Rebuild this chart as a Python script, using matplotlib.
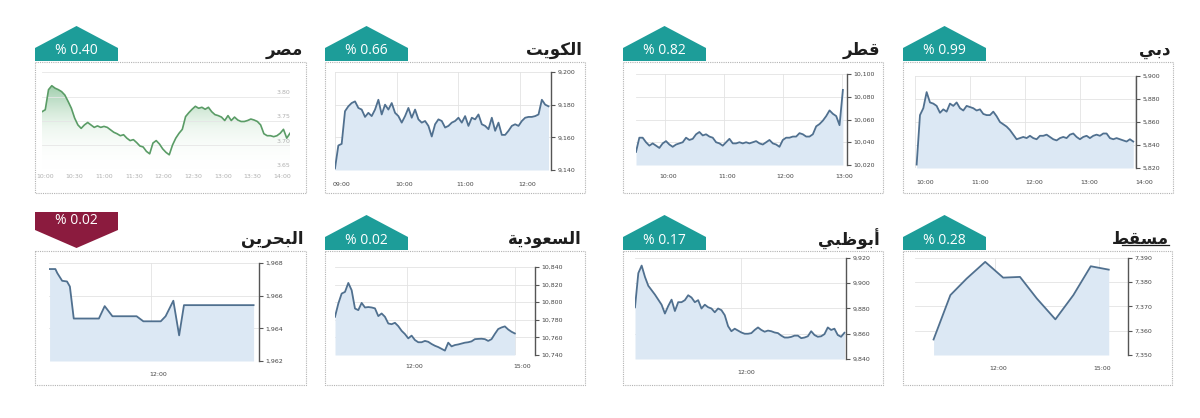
## Gulf / Arab market indices - small multiples
import numpy as np
import matplotlib.pyplot as plt
from matplotlib.patches import Polygon, Rectangle
from matplotlib.colors import LinearSegmentedColormap

## titles are written in Arabic presentation forms (visual order) because
## matplotlib does not shape Arabic text by itself
names = {
    'egypt': '\uFEAE\uFEBC\uFEE3',                            # مصر
    'kuwait': '\uFE96\uFEF3\uFEEE\uFEDC\uFEDF\uFE8D',         # الكويت
    'qatar': '\uFEAE\uFEC4\uFED7',                            # قطر
    'dubai': '\uFEF2\uFE91\uFEA9',                            # دبي
    'bahrain': '\uFEE6\uFEF3\uFEAE\uFEA4\uFE92\uFEDF\uFE8D',  # البحرين
    'saudi': '\uFE94\uFEF3\uFEA9\uFEEE\uFECC\uFEB4\uFEDF\uFE8D',  # السعودية
    'abudhabi': '\uFEF2\uFE92\uFEC7\uFEEE\uFE91\uFE83',       # أبوظبي
    'muscat': '\uFEC2\uFED8\uFEB4\uFEE3',                     # مسقط
}
changes = {'egypt': '0.40', 'kuwait': '0.66', 'qatar': '0.82', 'dubai': '0.99',
           'bahrain': '0.02', 'saudi': '0.02', 'abudhabi': '0.17', 'muscat': '0.28'}

##Data
egypt_start, egypt_end = 9.95, 14.13
egypt_values = [3.769, 3.773, 3.814, 3.822, 3.817, 3.814, 3.810, 3.803, 3.790, 3.776,
                3.756, 3.742, 3.735, 3.742, 3.747, 3.742, 3.737, 3.740, 3.737, 3.739,
                3.737, 3.732, 3.727, 3.724, 3.720, 3.722, 3.715, 3.710, 3.712, 3.706,
                3.699, 3.697, 3.688, 3.683, 3.705, 3.710, 3.703, 3.693, 3.686, 3.681,
                3.701, 3.715, 3.725, 3.733, 3.759, 3.767, 3.774, 3.780, 3.776, 3.778,
                3.774, 3.778, 3.769, 3.763, 3.761, 3.758, 3.751, 3.761, 3.751, 3.758,
                3.752, 3.749, 3.749, 3.751, 3.754, 3.752, 3.749, 3.742, 3.724, 3.720,
                3.720, 3.718, 3.720, 3.725, 3.733, 3.715, 3.725]
egypt_yticks = [3.65, 3.70, 3.75, 3.80, 3.85]
egypt_ylabels = ['3.65', '3.70', '3.75', '3.80']
egypt_xlabels = ['10:00', '10:30', '11:00', '11:30', '12:00', '12:30', '13:00', '13:30', '14:00']

kuwait_start, kuwait_end = 9.0, 12.46
kuwait_values = [9141, 9155, 9156, 9176, 9179, 9181, 9182, 9178, 9177, 9172.5,
                 9175, 9173, 9177, 9183, 9174, 9180, 9177, 9181, 9175, 9173,
                 9169, 9173, 9178, 9172, 9177, 9171, 9169, 9170, 9167, 9160.5,
                 9168, 9171, 9170, 9166, 9167, 9169, 9170, 9172, 9169, 9173,
                 9167, 9172, 9171, 9174, 9168, 9167, 9165, 9172, 9164, 9169,
                 9161.5, 9161.5, 9164, 9167, 9168, 9167, 9170, 9172, 9172.5, 9172.5,
                 9173, 9174, 9183, 9180, 9179]
kuwait_yticks = [9140, 9160, 9180, 9200]
kuwait_xticks = ['09:00', '10:00', '11:00', '12:00']

qatar_start, qatar_end = 9.5, 13.02
qatar_values = [10031.5, 10044, 10044, 10040, 10037, 10039, 10037, 10035, 10039, 10041,
                10038, 10036, 10038, 10039, 10040, 10044, 10042, 10043, 10047, 10049,
                10046, 10047, 10045, 10044, 10040, 10039, 10037, 10040, 10043, 10039,
                10039, 10040, 10039, 10040, 10039, 10040, 10041, 10039, 10038, 10040,
                10042, 10039, 10038, 10036, 10042, 10044, 10044, 10045, 10045, 10048,
                10047, 10045, 10045, 10047, 10054, 10056, 10059, 10063, 10068, 10065,
                10063, 10055, 10086]
qatar_yticks = [10020, 10040, 10060, 10080, 10100]
qatar_xticks = ['10:00', '11:00', '12:00', '13:00']

dubai_start, dubai_end = 10.03, 13.97
dubai_values = [5823, 5866, 5872, 5886, 5877, 5876, 5874, 5868, 5871, 5869,
                5876, 5874, 5877, 5872, 5870, 5874, 5873, 5872, 5870, 5871,
                5867, 5866, 5866, 5869, 5865, 5860, 5858, 5856, 5853, 5849,
                5845, 5846, 5847, 5846, 5848, 5846, 5845, 5848, 5848, 5849,
                5847, 5845, 5844, 5846, 5847, 5846, 5849, 5850, 5847, 5845,
                5847, 5848, 5846, 5848, 5849, 5848, 5850, 5850, 5846, 5845,
                5846, 5845, 5844, 5843, 5845, 5843]
dubai_yticks = [5820, 5840, 5860, 5880, 5900]
dubai_xticks = ['10:00', '11:00', '12:00', '13:00', '14:00']

bahrain_times = ['10:15', '10:21', '10:23', '10:28', '10:33', '10:36', '10:40', '11:06',
                 '11:12', '11:20', '11:45', '11:52', '12:10', '12:15', '12:23', '12:29',
                 '12:34', '13:46']
bahrain_values = [1967.63, 1967.63, 1967.38, 1966.91, 1966.87, 1966.56, 1964.60, 1964.60,
                  1965.36, 1964.74, 1964.74, 1964.43, 1964.43, 1964.74, 1965.69, 1963.57,
                  1965.42, 1965.42]
bahrain_yticks = [1962, 1964, 1966, 1968]
bahrain_xticks = ['12:00']

saudi_start, saudi_end = 10.0, 15.0
saudi_values = [10783.4, 10798.5, 10809.8, 10811.7, 10821.9, 10813.6, 10792.8, 10791, 10799.2, 10794,
                10794.5, 10794, 10793, 10784.2, 10787.2, 10783.4, 10775.8, 10775, 10776.6, 10772.8,
                10767.5, 10763.8, 10758.9, 10762, 10757, 10754.5, 10754.5, 10756, 10755, 10752.5,
                10750.5, 10749, 10747, 10745, 10754, 10749.8, 10751.3, 10752, 10753, 10754,
                10754.5, 10755.5, 10758, 10758.3, 10758.5, 10758, 10756, 10758, 10764, 10769.5,
                10771.3, 10772.5, 10769, 10766.4, 10764.5]
saudi_yticks = [10740, 10760, 10780, 10800, 10820, 10840]
saudi_xticks = ['12:00', '15:00']

abudhabi_start, abudhabi_end = 10.0, 13.97
abudhabi_values = [9881, 9908, 9914, 9905, 9898, 9894.5, 9891, 9887, 9883, 9876,
                   9882, 9887, 9878, 9885, 9885, 9886.6, 9890.5, 9888.7, 9885, 9886.6,
                   9880, 9883, 9881, 9880, 9877, 9880, 9878.7, 9874.7, 9866, 9862,
                   9864, 9862.5, 9861, 9860, 9860, 9860.5, 9863, 9865, 9863, 9861.6,
                   9862.5, 9862, 9861, 9860.5, 9858.5, 9857, 9857, 9857.5, 9858.5, 9858.5,
                   9856.5, 9857, 9858, 9862, 9859, 9857.6, 9858, 9859.7, 9865, 9863,
                   9864, 9859, 9857.6, 9860.8]
abudhabi_yticks = [9840, 9860, 9880, 9900, 9920]
abudhabi_xticks = ['12:00']

muscat_times = ['10:14', '10:43', '11:11', '11:43', '12:14', '12:43', '13:12', '13:44',
                '14:15', '14:45', '15:16']
muscat_values = [7356.4, 7374.7, 7381.5, 7388.4, 7381.9, 7382.2, 7373.3, 7364.7,
                 7374.7, 7386.6, 7385.2]
muscat_yticks = [7350, 7360, 7370, 7380, 7390]
muscat_xticks = ['12:00', '15:00']

W, H = 1200, 418
TEAL = '#1d9d99'
MAROON = '#8b1b3e'
LINE = '#50708f'
FILL = '#dce8f4'
GRID = '#e3e3e3'


def hours(s):
	h, m = s.split(':')
	return int(h) + int(m) / 60.0


fig = plt.figure(figsize=(12, 4.18), dpi=100, facecolor='white')
bg = fig.add_axes([0, 0, 1, 1])
bg.set_xlim(0, W)
bg.set_ylim(H, 0)
bg.axis('off')


def px_axes(x0, y0, x1, y1):
	return fig.add_axes([x0 / W, 1 - y1 / H, (x1 - x0) / W, (y1 - y0) / H])


def frame(x0, y0, x1, y1, key, up=True, underline=False):
	bg.add_patch(Rectangle((x0, y0), x1 - x0, y1 - y0, fill=False, ls=(0, (1, 1)),
	                       lw=0.8, ec='#b3b3b3'))
	bx1 = x0 + 83
	mid = (x0 + bx1) / 2
	if up:
		pts = [(x0, y0 - 1), (x0, y0 - 14), (mid, y0 - 36), (bx1, y0 - 14), (bx1, y0 - 1)]
		ty = y0 - 11
	else:
		pts = [(x0, y0 - 39), (bx1, y0 - 39), (bx1, y0 - 21), (mid, y0 - 3), (x0, y0 - 21)]
		ty = y0 - 30
	bg.add_patch(Polygon(pts, closed=True, fc=TEAL if up else MAROON, ec='none'))
	bg.text(mid, ty, '% ' + changes[key], color='white', ha='center', va='center',
	        fontsize=10, family='Open Sans')
	bg.text(x1 - 3, y0 - 12, names[key], ha='right', va='center', fontsize=12,
	        fontweight='bold', color='#1e1e1e', family='DejaVu Sans')
	if underline:
		bg.plot([x1 - 50, x1 - 3], [y0 - 6, y0 - 6], color='#1e1e1e', lw=0.9)


def chart(rect, t, v, xlim, yticks, xt, xtl, label_y, dx=5):
	ax = px_axes(*rect)
	ax.set_facecolor('none')
	ax.fill_between(t, v, yticks[0], color=FILL, lw=0, zorder=1)
	ax.plot(t, v, color=LINE, lw=1.3, zorder=3)
	ax.set_xlim(*xlim)
	ax.set_ylim(yticks[0], yticks[-1])
	ax.yaxis.tick_right()
	ax.set_yticks(yticks)
	ax.set_yticklabels(['{:,}'.format(y) for y in yticks], fontsize=4.5, color='#444444')
	ax.tick_params(axis='y', length=3, width=0.8, color='#555555', pad=1.5)
	ax.set_xticks(xt)
	ax.set_xticklabels([])
	ax.tick_params(axis='x', length=0)
	ax.grid(True, color=GRID, lw=0.6, zorder=0)
	ax.set_axisbelow(True)
	for s in ['top', 'left', 'bottom']:
		ax.spines[s].set_visible(False)
	ax.spines['right'].set_color('#555555')
	ax.spines['right'].set_linewidth(1.0)
	for x, lab in zip(xt, xtl):
		ax.annotate(lab, (x, H - label_y), xycoords=('data', 'figure pixels'),
		            xytext=(dx, 0), textcoords='offset points', ha='center', va='center',
		            fontsize=4.5, color='#444444', annotation_clip=False)
	return ax


##Egypt, green gradient style
frame(35, 62, 306, 193, 'egypt')
ax = px_axes(42, 72, 290, 170)
ax.set_facecolor('none')
et = np.linspace(egypt_start, egypt_end, len(egypt_values))
poly = ax.fill_between(et, egypt_values, egypt_yticks[0], color='none', lw=0)
cmap = LinearSegmentedColormap.from_list('g', [(1, 1, 1, 0), (0.62, 0.82, 0.66, 0.18),
                                               (0.42, 0.70, 0.50, 0.65)])
grad = np.linspace(0, 1, 256).reshape(-1, 1)
im = ax.imshow(grad, extent=(egypt_start, egypt_end, egypt_yticks[0], max(egypt_values)),
               origin='lower', aspect='auto', cmap=cmap, zorder=1)
im.set_clip_path(poly.get_paths()[0], transform=ax.transData)
ax.plot(et, egypt_values, color='#5a9c66', lw=1.2, zorder=3)
ax.set_xlim(egypt_start, egypt_end)
ax.set_ylim(egypt_yticks[0], egypt_yticks[-1])
ax.set_yticks(egypt_yticks)
ax.set_xticks([])
ax.set_yticklabels([])
ax.tick_params(length=0)
ax.grid(True, axis='y', color='#e6e6e6', lw=0.6)
for s in ax.spines.values():
	s.set_visible(False)
for y, lab in zip(egypt_yticks, egypt_ylabels):
	ax.text(0.972, y + 0.004, lab, transform=ax.get_yaxis_transform(), ha='center',
	        va='bottom', fontsize=4.5, color='#b0b0b0')
for i, lab in enumerate(egypt_xlabels):
	ax.annotate(lab, (hours(lab), H - 176), xycoords=('data', 'figure pixels'),
	            ha='center', va='center', fontsize=4.5, color='#b0b0b0', annotation_clip=False)

##Kuwait
frame(325, 62, 585, 193, 'kuwait')
chart((335, 72, 551, 170), np.linspace(kuwait_start, kuwait_end, len(kuwait_values)),
      kuwait_values, (9.0, 12.5), kuwait_yticks, [hours(s) for s in kuwait_xticks],
      kuwait_xticks, 185)

##Qatar
frame(623, 62, 883, 193, 'qatar')
chart((636, 74, 847, 165), np.linspace(qatar_start, qatar_end, len(qatar_values)),
      qatar_values, (9.5, 13.09), qatar_yticks, [hours(s) for s in qatar_xticks],
      qatar_xticks, 177, dx=2)

##Dubai
frame(903, 62, 1173, 193, 'dubai')
chart((915, 76, 1136, 168), np.linspace(dubai_start, dubai_end, len(dubai_values)),
      dubai_values, (10.0, 14.02), dubai_yticks, [hours(s) for s in dubai_xticks],
      dubai_xticks, 182, dx=7)

##Bahrain
frame(35, 251, 306, 385, 'bahrain', up=False)
chart((49, 263, 259, 361), [hours(s) for s in bahrain_times], bahrain_values,
      (10.24, 13.86), bahrain_yticks, [hours(s) for s in bahrain_xticks],
      bahrain_xticks, 375)

##Saudi
frame(325, 251, 585, 385, 'saudi')
chart((335, 267, 535, 355), np.linspace(saudi_start, saudi_end, len(saudi_values)),
      saudi_values, (10.0, 15.56), saudi_yticks, [hours(s) for s in saudi_xticks],
      saudi_xticks, 367)

##Abu Dhabi
frame(623, 251, 883, 385, 'abudhabi')
chart((635, 258, 846, 359), np.linspace(abudhabi_start, abudhabi_end, len(abudhabi_values)),
      abudhabi_values, (10.0, 14.0), abudhabi_yticks, [hours(s) for s in abudhabi_xticks],
      abudhabi_xticks, 373, dx=4)

##Muscat
frame(903, 251, 1172, 385, 'muscat', underline=True)
chart((915, 258, 1128, 355), [hours(s) for s in muscat_times], muscat_values,
      (9.70, 15.82), muscat_yticks, [hours(s) for s in muscat_xticks],
      muscat_xticks, 369, dx=2)

plt.savefig('out.png', dpi=100, facecolor='white')
